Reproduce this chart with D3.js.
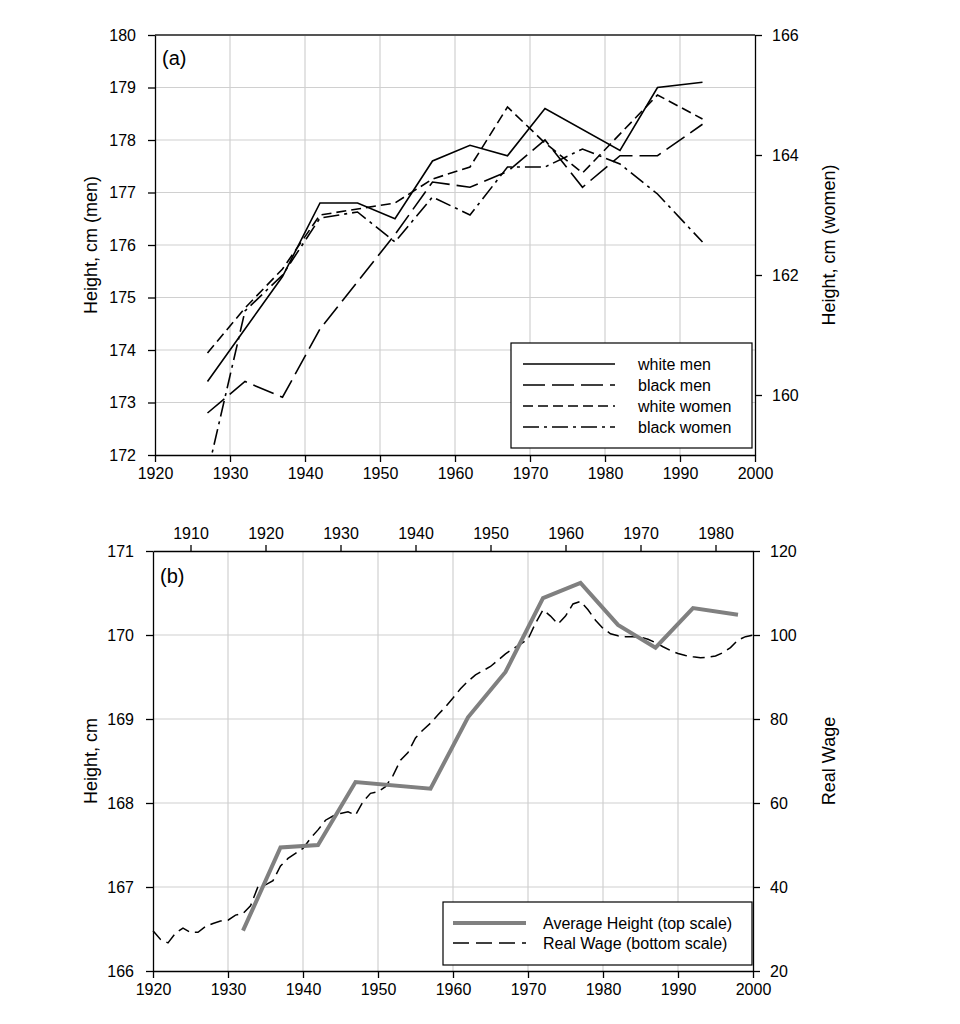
<!DOCTYPE html>
<html>
<head>
<meta charset="utf-8">
<script src="https://cdn.jsdelivr.net/npm/d3@7"></script>
<style>
  body { margin: 0; background: #fff; }
  text { font-family: "Liberation Sans", Arial, sans-serif; fill: #000; }
</style>
</head>
<body>
<svg id="chart" width="960" height="1024"></svg>
<script>
// ---- panel (a): heights by cohort ----
const whiteMenYears = [1927, 1932, 1937, 1942, 1947, 1952, 1957, 1962, 1967, 1972, 1982, 1987, 1993];
const whiteMen      = [173.4, 174.4, 175.4, 176.8, 176.8, 176.5, 177.6, 177.9, 177.7, 178.6, 177.8, 179.0, 179.1];
const blackMenYears = [1927, 1932, 1937, 1942, 1947, 1952, 1957, 1962, 1967, 1972, 1977, 1982, 1987, 1993];
const blackMen      = [172.8, 173.4, 173.1, 174.4, 175.3, 176.2, 177.2, 177.1, 177.4, 178.0, 177.1, 177.7, 177.7, 178.3];
const whiteWomenYears = [1927, 1932, 1937, 1942, 1947, 1952, 1957, 1962, 1967, 1972, 1977, 1987, 1993];
const whiteWomen      = [160.7, 161.45, 162.1, 163.0, 163.1, 163.2, 163.6, 163.8, 164.8, 164.2, 163.7, 165.0, 164.6];
const blackWomenYears = [1927, 1932, 1937, 1942, 1947, 1952, 1957, 1962, 1967, 1972, 1977, 1982, 1987, 1993];
const blackWomen      = [158.7, 161.4, 162.0, 162.95, 163.05, 162.55, 163.3, 163.0, 163.8, 163.8, 164.1, 163.85, 163.35, 162.55];

// ---- panel (b): average height vs real wage ----
const heightYears = [1917, 1922, 1927, 1932, 1942, 1947, 1952, 1957, 1962, 1967, 1972, 1977, 1983]; // top scale
const avgHeight   = [166.48, 167.47, 167.5, 168.25, 168.17, 169.02, 169.56, 170.44, 170.62, 170.12, 169.85, 170.32, 170.24];
const wageYears = d3.range(1920, 2001);
const realWage = [29.6, 27.5, 26.7, 29.0, 30.2, 29.2, 29.2, 30.6, 31.3, 31.9,
                  32.1, 33.3, 33.7, 35.5, 40.1, 40.5, 41.5, 45.0, 46.8, 48.0,
                  49.2, 51.6, 53.6, 55.9, 56.9, 57.5, 57.9, 57.1, 60.3, 62.3,
                  62.7, 63.9, 66.5, 70.2, 72.0, 75.5, 77.4, 79.0, 81.0, 82.9,
                  85.0, 87.2, 89.0, 90.5, 91.5, 92.5, 94.0, 95.5, 96.7, 97.8,
                  99.0, 102.8, 106.0, 104.5, 102.6, 104.5, 107.4, 108.0, 106.0, 103.5,
                  101.6, 100.3, 99.8, 99.6, 99.6, 99.5, 99.0, 98.2, 97.2, 96.3,
                  95.6, 95.1, 94.8, 94.6, 94.7, 95.0, 95.8, 97.0, 98.8, 99.6, 100.0];

const xTicks = d3.range(1920, 2001, 10);
const topTicks = d3.range(1910, 1981, 10);
const menTicks = d3.range(172, 181, 1);
const womenTicks = [160, 162, 164, 166];
const bHeightTicks = d3.range(166, 172, 1);
const wageTicks = d3.range(20, 121, 20);

const svg = d3.select("#chart");
const FONT = 16;
const fmt = d3.format("d");

function styleAxis(g) {
  g.selectAll("path").attr("stroke", "#000").attr("stroke-width", 1.3);
  g.selectAll("line").attr("stroke", "#000").attr("stroke-width", 1.3);
  g.selectAll("text").style("font-size", FONT + "px").attr("fill", "#000");
}

// ================= panel (a) =================
{
  const L = 155, R = 755, T = 35, B = 455;
  const x = d3.scaleLinear().domain([1920, 2000]).range([L, R]);
  const yMen = d3.scaleLinear().domain([172, 180]).range([B, T]);
  const yWomen = d3.scaleLinear().domain([159, 166]).range([B, T]);

  const grid = svg.append("g");
  grid.selectAll(".v").data(xTicks.slice(1, -1)).enter().append("line")
    .attr("x1", d => x(d)).attr("x2", d => x(d)).attr("y1", T).attr("y2", B)
    .attr("stroke", "#d0d0d0").attr("stroke-width", 1.2);
  grid.selectAll(".h").data(menTicks.slice(1, -1)).enter().append("line")
    .attr("x1", L).attr("x2", R).attr("y1", d => yMen(d)).attr("y2", d => yMen(d))
    .attr("stroke", "#d0d0d0").attr("stroke-width", 1.2);

  svg.append("clipPath").attr("id", "clipA").append("rect")
    .attr("x", L).attr("y", T).attr("width", R - L).attr("height", B - T);

  const series = [
    {yrs: whiteMenYears, vals: whiteMen, y: yMen, dash: null},
    {yrs: blackMenYears, vals: blackMen, y: yMen, dash: "22,7"},
    {yrs: whiteWomenYears, vals: whiteWomen, y: yWomen, dash: "10,5"},
    {yrs: blackWomenYears, vals: blackWomen, y: yWomen, dash: "16,5,3,5"}
  ];
  const lg = svg.append("g").attr("clip-path", "url(#clipA)");
  series.forEach(s => {
    const line = d3.line().x((d, i) => x(s.yrs[i])).y(d => s.y(d));
    lg.append("path").datum(s.vals)
      .attr("fill", "none").attr("stroke", "#000").attr("stroke-width", 1.6)
      .attr("stroke-dasharray", s.dash).attr("d", line);
  });

  // frame top
  svg.append("line").attr("x1", L).attr("x2", R).attr("y1", T).attr("y2", T)
    .attr("stroke", "#555").attr("stroke-width", 2);

  svg.append("g").attr("transform", `translate(0,${B})`)
    .call(d3.axisBottom(x).tickValues(xTicks).tickFormat(fmt).tickSize(7).tickSizeOuter(0).tickPadding(6))
    .call(styleAxis);
  svg.append("g").attr("transform", `translate(${L},0)`)
    .call(d3.axisLeft(yMen).tickValues(menTicks).tickFormat(fmt).tickSize(7).tickSizeOuter(0).tickPadding(12))
    .call(styleAxis);
  svg.append("g").attr("transform", `translate(${R},0)`)
    .call(d3.axisRight(yWomen).tickValues(womenTicks).tickFormat(fmt).tickSize(7).tickSizeOuter(0).tickPadding(10))
    .call(styleAxis);

  svg.append("text").attr("x", 162).attr("y", 65).style("font-size", "20px").text("(a)");
  svg.append("text").attr("transform", `translate(97,${(T + B) / 2}) rotate(-90)`)
    .attr("text-anchor", "middle").style("font-size", "18px").text("Height, cm (men)");
  svg.append("text").attr("transform", `translate(835,${(T + B) / 2}) rotate(-90)`)
    .attr("text-anchor", "middle").style("font-size", "18px").text("Height, cm (women)");

  // legend
  const labels = ["white men", "black men", "white women", "black women"];
  const leg = svg.append("g");
  leg.append("rect").attr("x", 511).attr("y", 343).attr("width", 241).attr("height", 105)
    .attr("fill", "#fff").attr("stroke", "#000").attr("stroke-width", 1.2);
  labels.forEach((lab, i) => {
    const yy = 364 + i * 21;
    leg.append("line").attr("x1", 523).attr("x2", 615).attr("y1", yy).attr("y2", yy)
      .attr("stroke", "#000").attr("stroke-width", 1.6).attr("stroke-dasharray", series[i].dash);
    leg.append("text").attr("x", 638).attr("y", yy).attr("dy", "0.35em")
      .style("font-size", FONT + "px").text(lab);
  });
}

// ================= panel (b) =================
{
  const L = 153, R = 753, T = 551, B = 971;
  const x = d3.scaleLinear().domain([1920, 2000]).range([L, R]);
  const xTop = d3.scaleLinear().domain([1905, 1985]).range([L, R]);
  const yH = d3.scaleLinear().domain([166, 171]).range([B, T]);
  const yW = d3.scaleLinear().domain([20, 120]).range([B, T]);

  const grid = svg.append("g");
  grid.selectAll(".v").data(xTicks.slice(1, -1)).enter().append("line")
    .attr("x1", d => x(d)).attr("x2", d => x(d)).attr("y1", T).attr("y2", B)
    .attr("stroke", "#d0d0d0").attr("stroke-width", 1.2);
  grid.selectAll(".h").data(bHeightTicks.slice(1, -1)).enter().append("line")
    .attr("x1", L).attr("x2", R).attr("y1", d => yH(d)).attr("y2", d => yH(d))
    .attr("stroke", "#d0d0d0").attr("stroke-width", 1.2);

  svg.append("path").datum(realWage)
    .attr("fill", "none").attr("stroke", "#000").attr("stroke-width", 1.5)
    .attr("stroke-dasharray", "12,6")
    .attr("d", d3.line().x((d, i) => x(wageYears[i])).y(d => yW(d)));
  svg.append("path").datum(avgHeight)
    .attr("fill", "none").attr("stroke", "#808080").attr("stroke-width", 4)
    .attr("stroke-linejoin", "miter")
    .attr("d", d3.line().x((d, i) => xTop(heightYears[i])).y(d => yH(d)));

  svg.append("g").attr("transform", `translate(0,${B})`)
    .call(d3.axisBottom(x).tickValues(xTicks).tickFormat(fmt).tickSize(7).tickSizeOuter(0).tickPadding(6))
    .call(styleAxis);
  svg.append("g").attr("transform", `translate(0,${T})`)
    .call(d3.axisTop(xTop).tickValues(topTicks).tickFormat(fmt).tickSize(6).tickSizeOuter(0).tickPadding(6))
    .call(styleAxis);
  svg.append("g").attr("transform", `translate(${L},0)`)
    .call(d3.axisLeft(yH).tickValues(bHeightTicks).tickFormat(fmt).tickSize(7).tickSizeOuter(0).tickPadding(12))
    .call(styleAxis);
  svg.append("g").attr("transform", `translate(${R},0)`)
    .call(d3.axisRight(yW).tickValues(wageTicks).tickFormat(fmt).tickSize(7).tickSizeOuter(0).tickPadding(10))
    .call(styleAxis);

  svg.append("text").attr("x", 160).attr("y", 583).style("font-size", "20px").text("(b)");
  svg.append("text").attr("transform", `translate(97,${(T + B) / 2}) rotate(-90)`)
    .attr("text-anchor", "middle").style("font-size", "18px").text("Height, cm");
  svg.append("text").attr("transform", `translate(835,${(T + B) / 2}) rotate(-90)`)
    .attr("text-anchor", "middle").style("font-size", "18px").text("Real Wage");

  const leg = svg.append("g");
  leg.append("rect").attr("x", 443).attr("y", 902).attr("width", 309).attr("height", 63)
    .attr("fill", "#fff").attr("stroke", "#000").attr("stroke-width", 1.2);
  leg.append("line").attr("x1", 453).attr("x2", 526).attr("y1", 923).attr("y2", 923)
    .attr("stroke", "#808080").attr("stroke-width", 4);
  leg.append("line").attr("x1", 453).attr("x2", 526).attr("y1", 943).attr("y2", 943)
    .attr("stroke", "#000").attr("stroke-width", 1.5).attr("stroke-dasharray", "16,7");
  leg.append("text").attr("x", 543).attr("y", 923).attr("dy", "0.35em")
    .style("font-size", FONT + "px").text("Average Height (top scale)");
  leg.append("text").attr("x", 543).attr("y", 943).attr("dy", "0.35em")
    .style("font-size", FONT + "px").text("Real Wage (bottom scale)");
}
</script>
</body>
</html>
